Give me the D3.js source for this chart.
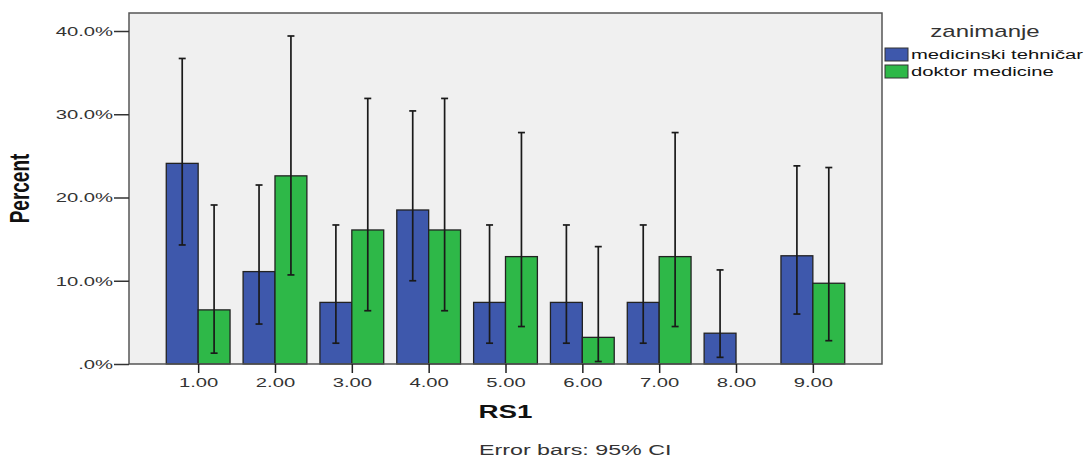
<!DOCTYPE html>
<html>
<head>
<meta charset="utf-8">
<script src="https://cdn.jsdelivr.net/npm/d3@7"></script>
<style>
  body { margin: 0; background: #fff; }
  svg { display: block; font-family: Arial, "Liberation Sans", sans-serif; }
</style>
</head>
<body>
<svg id="chart" width="1088" height="459"></svg>
<script>
(function () {
    'use strict';

    // data (percent)
    const categories = ['1.00', '2.00', '3.00', '4.00', '5.00', '6.00', '7.00', '8.00', '9.00'];
    const seriesNames = ['medicinski tehničar', 'doktor medicine'];
    const tehValues = [24.1, 11.1, 7.4, 18.5, 7.4, 7.4, 7.4, 3.7, 13.0];
    const tehLow = [14.3, 4.8, 2.5, 10.0, 2.5, 2.5, 2.5, 0.8, 6.0];
    const tehHigh = [36.7, 21.5, 16.7, 30.4, 16.7, 16.7, 16.7, 11.3, 23.8];
    const drValues = [6.5, 22.6, 16.1, 16.1, 12.9, 3.2, 12.9, 0, 9.7];
    const drLow = [1.3, 10.7, 6.4, 6.4, 4.5, 0.3, 4.5, null, 2.8];
    const drHigh = [19.1, 39.4, 31.9, 31.9, 27.8, 14.1, 27.8, null, 23.6];
    const yTicks = [0, 10, 20, 30, 40];

    const colors = ['#3e58ac', '#2eb848'];
    const sx = 1.5; // the reference text is stretched horizontally

    const pl = { left: 129, right: 882, top: 13, bottom: 364 };
    const sv = d3.select('#chart');

    const x = d3.scalePoint().domain(categories).range([pl.left, pl.right]).padding(0.9);
    const bw = x.step() * 0.415;
    const xi = d3.scaleBand().domain(seriesNames).range([-bw, bw]);
    const y = d3.scaleLinear().domain([0, 40]).range([pl.bottom, 31]);

    const rows = categories.map((c, i) => [
        { cat: c, s: seriesNames[0], v: tehValues[i], lo: tehLow[i], hi: tehHigh[i] },
        { cat: c, s: seriesNames[1], v: drValues[i], lo: drLow[i], hi: drHigh[i] }
    ]).flat();

    // plot background
    sv.append('rect')
        .attr('x', pl.left).attr('y', pl.top)
        .attr('width', pl.right - pl.left).attr('height', pl.bottom - pl.top)
        .attr('fill', '#f0f0f0');

    // bars
    sv.append('g').selectAll('rect')
        .data(rows.filter(d => d.v > 0))
        .enter().append('rect')
        .attr('x', d => x(d.cat) + xi(d.s))
        .attr('y', d => y(d.v))
        .attr('width', xi.bandwidth())
        .attr('height', d => y(0) - y(d.v))
        .attr('fill', d => colors[seriesNames.indexOf(d.s)])
        .attr('stroke', '#222')
        .attr('stroke-width', 1.3);

    // error bars
    const eb = sv.append('g').attr('stroke', '#1a1a1a').attr('stroke-width', 1.7);
    const ebData = rows.filter(d => d.lo !== null);
    const cx = d => x(d.cat) + xi(d.s) + xi.bandwidth() / 2;
    eb.selectAll('.v').data(ebData).enter().append('line')
        .attr('x1', cx).attr('x2', cx)
        .attr('y1', d => y(d.lo)).attr('y2', d => y(d.hi));
    eb.selectAll('.t').data(ebData).enter().append('line')
        .attr('x1', d => cx(d) - 3.5).attr('x2', d => cx(d) + 3.5)
        .attr('y1', d => y(d.hi)).attr('y2', d => y(d.hi));
    eb.selectAll('.b').data(ebData).enter().append('line')
        .attr('x1', d => cx(d) - 3.5).attr('x2', d => cx(d) + 3.5)
        .attr('y1', d => y(d.lo)).attr('y2', d => y(d.lo));

    // frame
    sv.append('rect')
        .attr('x', pl.left).attr('y', pl.top)
        .attr('width', pl.right - pl.left).attr('height', pl.bottom - pl.top)
        .attr('fill', 'none').attr('stroke', '#555').attr('stroke-width', 1.5);

    // y axis
    const ya = sv.append('g')
        .attr('transform', `translate(${pl.left},0)`)
        .call(d3.axisLeft(y).tickValues(yTicks).tickSize(15)
            .tickFormat(d => d === 0 ? '.0%' : d.toFixed(1) + '%'));
    ya.select('.domain').remove();
    ya.selectAll('line').attr('stroke', '#333').attr('stroke-width', 1.5);
    ya.selectAll('text')
        .attr('x', -16 / sx)
        .attr('transform', `scale(${sx},1)`)
        .style('font-size', '13.5px')
        .attr('fill', '#333');

    // x axis
    const xa = sv.append('g')
        .attr('transform', `translate(0,${pl.bottom})`)
        .call(d3.axisBottom(x).tickSize(9));
    xa.select('.domain').remove();
    xa.selectAll('line').attr('stroke', '#222').attr('stroke-width', 1.5);
    xa.selectAll('text')
        .attr('y', 13)
        .attr('transform', `scale(${sx},1)`)
        .style('font-size', '13.5px')
        .attr('fill', '#333');

    // axis titles
    sv.append('text')
        .attr('transform', `translate(29,${(pl.top + pl.bottom) / 2}) scale(${sx},1) rotate(-90)`)
        .attr('text-anchor', 'middle')
        .style('font-size', '19px')
        .style('font-weight', 'bold')
        .attr('fill', '#111')
        .text('Percent');

    sv.append('text')
        .attr('transform', `translate(${(pl.left + pl.right) / 2},418) scale(${sx},1)`)
        .attr('text-anchor', 'middle')
        .style('font-size', '18.5px')
        .style('font-weight', 'bold')
        .attr('fill', '#111')
        .text('RS1');

    sv.append('text')
        .attr('transform', `translate(479,455) scale(${sx},1)`)
        .style('font-size', '15.5px')
        .attr('fill', '#333')
        .text('Error bars: 95% CI');

    // legend
    const le = sv.append('g');
    le.append('text')
        .attr('transform', `translate(985,37) scale(${sx},1)`)
        .attr('text-anchor', 'middle')
        .style('font-size', '16px')
        .attr('fill', '#333')
        .text('zanimanje');

    const li = le.selectAll('.li').data(seriesNames).enter().append('g')
        .attr('transform', (d, i) => `translate(885,${48 + i * 17})`);
    li.append('rect')
        .attr('width', 23).attr('height', 13)
        .attr('fill', (d, i) => colors[i])
        .attr('stroke', '#333').attr('stroke-width', 1);
    li.append('text')
        .attr('transform', `translate(26,11) scale(${sx},1)`)
        .style('font-size', '13.5px')
        .attr('fill', '#111')
        .text(d => d);
})();
</script>
</body>
</html>
